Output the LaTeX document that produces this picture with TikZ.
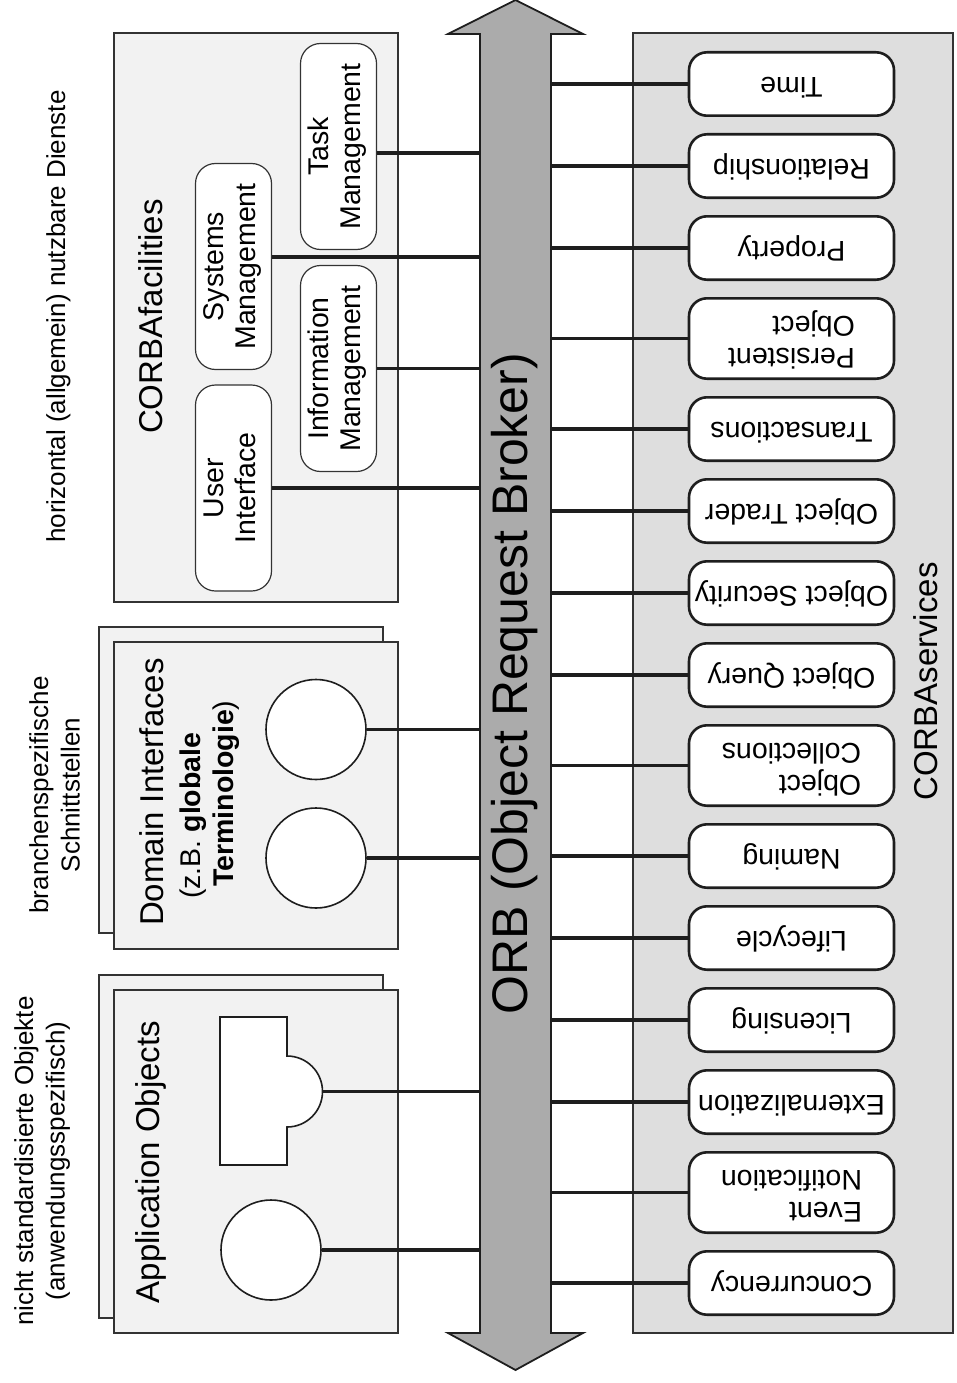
\documentclass[tikz,border=0pt]{standalone}
\usepackage{fontspec}
\setmainfont{Liberation Sans}
\usepackage{xcolor}
\definecolor{cInk}{HTML}{1E1E1E}
\definecolor{cFrame}{HTML}{333333}
\definecolor{cPanel}{HTML}{F2F2F2}
\definecolor{cSvc}{HTML}{DEDEDE}
\definecolor{cOrb}{HTML}{ABABAB}
\usepackage{graphicx}
\usepackage{tikz}
\usetikzlibrary{positioning}
\newcommand{\upstack}[2][c]{\rotatebox{90}{\begin{tabular}{@{}#1@{}}#2\end{tabular}}}
\newcommand{\flipstack}[1]{\rotatebox{180}{\begin{tabular}{@{}l@{}}#1\end{tabular}}}
\tikzset{
  panel/.style={draw=cFrame,line width=1.8pt,fill=cPanel},
  panel-svc/.style={panel,fill=cSvc},
  fac-pill/.style={draw=cFrame,line width=1.2pt,fill=white,rounded corners=20pt,
    minimum width=76pt,minimum height=206pt,inner sep=0pt,
    font=\fontsize{28.5}{32}\selectfont},
  svc-pill/.style={draw=cInk,line width=2.6pt,fill=white,rounded corners=18pt,
    minimum width=205pt,minimum height=63.4pt,inner sep=0pt,
    font=\fontsize{28.5}{32}\selectfont},
  svc-pill-2/.style={svc-pill,minimum height=80.4pt},
  obj-shape/.style={draw=cInk,line width=1.6pt,fill=white},
  obj-round/.style={obj-shape,circle,minimum size=100pt,inner sep=0pt},
  orb-body/.style={draw=cInk,line width=1.8pt,fill=cOrb},
  link/.style={draw=cInk,line width=3.6pt},
  % rotated side notes and panel titles
  note/.style={inner sep=0pt,font=\fontsize{26}{31.5}\selectfont},
  title/.style={inner sep=0pt,font=\fontsize{33}{39.6}\selectfont},
}

\begin{document}
\begin{tikzpicture}[x=1pt,y=-1pt,node distance=16pt]
  \useasboundingbox (0,0) rectangle (957,1383);
  \draw[panel] (114,33) rectangle (398,602);
  \draw[panel] (99,627) rectangle (383,933);
  \draw[panel] (114,642) rectangle (398,949);
  \draw[panel] (99,975) rectangle (383,1318);
  \draw[panel] (114,990) rectangle (398,1333);
  \draw[panel-svc] (633,33) rectangle (953,1333);

  \draw[orb-body] (515.5,0) -- (583,34) -- (551,34) -- (551,1333) -- (583,1333)
    -- (515.5,1370) -- (448,1333) -- (480,1333) -- (480,34) -- (448,34) -- cycle;
  \node[inner sep=0pt,minimum width=71pt,minimum height=1299pt,
    font=\fontsize{50}{60}\selectfont] (orb) at (515.5,683.5)
    {\upstack{ORB (Object Request Broker)}};

  \node[note] (note-fac) at (58.7,316.5) {\upstack{horizontal (allgemein) nutzbare Dienste}};
  \node[note] (note-dom) at (57.6,795) {\upstack{branchenspezifische\\Schnittstellen}};
  \node[note] (note-app) at (42.5,1161) {\upstack{nicht standardisierte Objekte\\(anwendungsspezifisch)}};

  \node[title] (fac-title) at (155,316.5) {\upstack{CORBAfacilities}};
  \node[inner sep=0pt,font=\fontsize{28.5}{32}\selectfont] (dom-title) at (191,792)
    {\upstack[l]{\fontsize{33}{39.6}\selectfont Domain Interfaces\\[5pt]
      \hspace*{27pt}(z.B. \textbf{globale}\\[1pt]
      \hspace*{39pt}\textbf{Terminologie})}};
  \node[title] (app-title) at (152,1162) {\upstack{Application Objects}};
  \node[title] (svc-title) at (930,681.5) {\upstack{CORBAservices}};

  \node[fac-pill] (task) at (338.5,146.5) {\upstack{Task\\Management}};
  \node[fac-pill] (sysm) at (233.5,266.5) {\upstack{Systems\\Management}};
  \node[fac-pill] (info) at (338.5,368.5) {\upstack{Information\\Management}};
  \node[fac-pill] (ui) at (233.5,488) {\upstack{User\\Interface}};

  \node[obj-round] (dom-a) at (316,729.5) {};
  \node[obj-round] (dom-b) at (316,858) {};
  \draw[obj-shape] (220,1017) -- (287,1017) -- (287,1056)
    arc[start angle=-90,end angle=90,radius=35.5] -- (287,1165) -- (220,1165) -- cycle;
  \coordinate (app-a) at (322.5,1091.5);
  \node[obj-round] (app-b) at (271,1250) {};

  \node[svc-pill] (time) at (791.5,84) {\flipstack{Time}};
  \node[svc-pill,below=of time] (relship) {\flipstack{Relationship}};
  \node[svc-pill,below=of relship] (prop) {\flipstack{Property}};
  \node[svc-pill-2,below=of prop] (pers) {\flipstack{Persistent\\Object}};
  \node[svc-pill,below=of pers] (trans) {\flipstack{Transactions}};
  \node[svc-pill,below=of trans] (trader) {\flipstack{Object Trader}};
  \node[svc-pill,below=of trader] (secur) {\flipstack{Object Security}};
  \node[svc-pill,below=of secur] (query) {\flipstack{Object Query}};
  \node[svc-pill-2,below=of query] (coll) {\flipstack{Object\\Collections}};
  \node[svc-pill,below=of coll] (naming) {\flipstack{Naming}};
  \node[svc-pill,below=of naming] (life) {\flipstack{Lifecycle}};
  \node[svc-pill,below=of life] (licens) {\flipstack{Licensing}};
  \node[svc-pill,below=of licens] (extern) {\flipstack{Externalization}};
  \node[svc-pill-2,below=of extern] (event) {\flipstack{Event\\Notification}};
  \node[svc-pill,below=of event] (concur) {\flipstack{Concurrency}};

  \coordinate (task-port) at ([yshift=-6.5pt]task.east);
  \coordinate (sysm-port) at ([yshift=9.5pt]sysm.east);
  \draw[link] (task-port) -- (task-port -| orb.west);
  \draw[link] (sysm-port) -- (sysm-port -| orb.west);
  \draw[link] (info.east) -- (info.east -| orb.west);
  \draw[link] (ui.east) -- (ui.east -| orb.west);
  \draw[link] (dom-a.east) -- (dom-a.east -| orb.west);
  \draw[link] (dom-b.east) -- (dom-b.east -| orb.west);
  \draw[link] (app-a) -- (app-a -| orb.west);
  \draw[link] (app-b.east) -- (app-b.east -| orb.west);

  \draw[link] (orb.east |- time.west) -- (time.west);
  \draw[link] (orb.east |- relship.west) -- (relship.west);
  \draw[link] (orb.east |- prop.west) -- (prop.west);
  \draw[link] (orb.east |- pers.west) -- (pers.west);
  \draw[link] (orb.east |- trans.west) -- (trans.west);
  \draw[link] (orb.east |- trader.west) -- (trader.west);
  \draw[link] (orb.east |- secur.west) -- (secur.west);
  \draw[link] (orb.east |- query.west) -- (query.west);
  \draw[link] (orb.east |- coll.west) -- (coll.west);
  \draw[link] (orb.east |- naming.west) -- (naming.west);
  \draw[link] (orb.east |- life.west) -- (life.west);
  \draw[link] (orb.east |- licens.west) -- (licens.west);
  \draw[link] (orb.east |- extern.west) -- (extern.west);
  \draw[link] (orb.east |- event.west) -- (event.west);
  \draw[link] (orb.east |- concur.west) -- (concur.west);
\end{tikzpicture}
\end{document}
